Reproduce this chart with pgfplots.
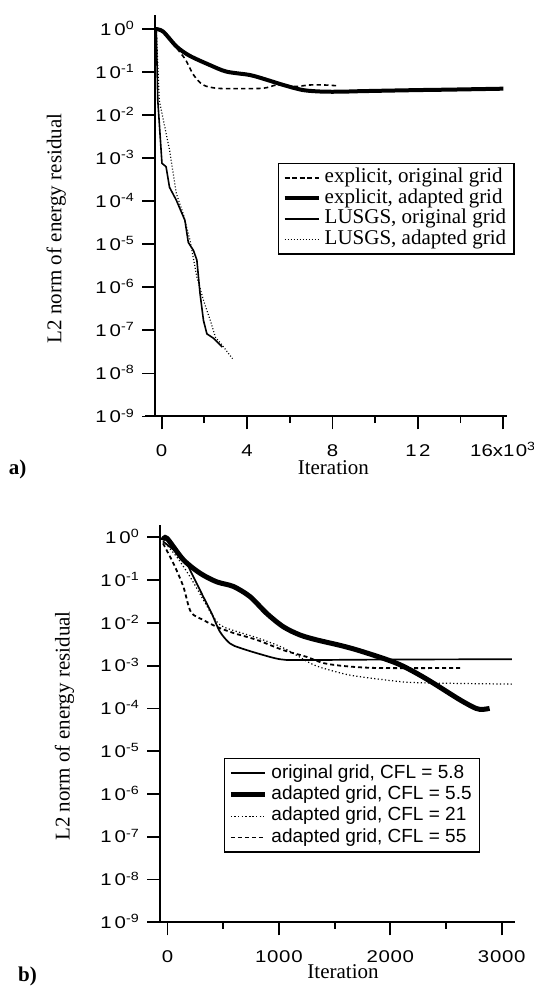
\documentclass[border=0pt]{standalone}
\usepackage{fontspec}
\setmainfont{Liberation Serif}
\setsansfont{Liberation Sans}
\usepackage{graphicx}
\usepackage{pgfplots}
\pgfplotsset{compat=1.18}

% wide sans tick labels, as in the scan
\newcommand{\tk}[1]{\scalebox{1.2}[1]{#1}}
\newcommand{\dec}[1]{\tk{1\kern1.2pt0\textsuperscript{#1}}}

\pgfplotsset{
  resid/.style={
    scale only axis,
    ymin=1e-9,
    axis lines=left,
    axis line style={-, line width=1pt},
    tick align=outside,
    major tick length=6.5pt,
    minor tick length=3.3pt,
    tick style={black, line width=0.9pt},
    yminorticks=false,
    ytick={1e-9,1e-8,1e-7,1e-6,1e-5,1e-4,1e-3,1e-2,1e-1,1},
    yticklabels={\dec{-9},\dec{-8},\dec{-7},\dec{-6},\dec{-5},\dec{-4},\dec{-3},\dec{-2},\dec{-1},\dec{0}},
    yticklabel style={font=\fontsize{8.5}{8.5}\selectfont\sffamily, anchor=base east, yshift=-3.1pt},
    xticklabel style={font=\fontsize{8.5}{8.5}\selectfont\sffamily, anchor=base, yshift=-13.5pt, inner sep=0pt},
    clip=false,
    legend cell align=left,
  },
}

\begin{document}
\begin{tikzpicture}[x=1pt,y=1pt]
\useasboundingbox (0,0) rectangle (267,497);

% ---------------- a) explicit vs LUSGS
\begin{semilogyaxis}[resid,
  at={(77.5pt,288.75pt)}, anchor=south west,
  width=175.85pt, height=200.75pt,
  xmin=-0.31, xmax=16.16, ymax=2.11,
  xtick={0,4,8,12,16},
  minor xtick={2,6,10,14},
  xticklabels={\tk{0},\tk{4},\tk{8},\tk{1\kern1pt2},\tk{16x1\kern.6pt0\textsuperscript{3}}},
  legend style={at={(0.349,0.632)}, anchor=north west, draw=black, line width=0.8pt,
    font=\fontsize{10.5}{10.5}\selectfont, row sep=0pt, inner sep=2pt,
    nodes={inner ysep=0.4pt, text height=7.2pt, text depth=2.3pt}},
]
\addplot[black, line width=0.8pt, dash pattern=on 2.2pt off 1.6pt, smooth] coordinates {
  (-0.3,1.0) (0.07,0.87) (0.6,0.42) (0.9,0.27) (1.13,0.19) (1.5,0.085) (1.95,0.050)
  (2.58,0.042) (3.5,0.041) (4.76,0.042) (5.39,0.050) (6.0,0.047) (6.32,0.046)
  (6.95,0.050) (7.6,0.050) (8.2,0.048)
};
\addlegendentry{explicit, original grid}
\addplot[black, line width=2pt, smooth] coordinates {
  (-0.3,1.0) (0.07,0.87) (0.7,0.39) (1.3,0.24) (2.26,0.145) (3.04,0.102) (4.14,0.085)
  (4.92,0.066) (5.7,0.050) (6.63,0.038) (7.57,0.035) (8.5,0.035) (9.43,0.036)
  (11.94,0.038) (13.5,0.039) (16.0,0.041)
};
\addlegendentry{explicit, adapted grid}
\addplot[black, line width=0.8pt] coordinates {
  (-0.25,1.0) (-0.18,0.022) (0.016,7.6e-4) (0.21,6.3e-4) (0.37,2.1e-4) (0.69,1.05e-4)
  (1.09,3.6e-5) (1.25,1.1e-5) (1.49,7.2e-6) (1.65,4.3e-6) (1.80,7.1e-7) (1.96,1.7e-7)
  (2.12,8.3e-8) (2.44,6.5e-8) (2.84,4.1e-8)
};
\addlegendentry{LUSGS, original grid}
\addplot[black, line width=0.6pt, dash pattern=on 0.5pt off 1pt] coordinates {
  (-0.25,1.0) (-0.11,0.022) (0.05,9.1e-3) (0.37,1.55e-3) (0.69,1.5e-4) (1.01,5.1e-5)
  (1.33,1.23e-5) (1.65,1.74e-6) (1.96,5.0e-7) (2.28,1.7e-7) (2.52,6.9e-8)
  (2.84,4.5e-8) (3.32,2.2e-8)
};
\addlegendentry{LUSGS, adapted grid}
\end{semilogyaxis}
\draw[line width=1pt] (72.5,288.75) -- (77.5,288.75);

% ---------------- b) CFL study
\begin{semilogyaxis}[resid,
  at={(80pt,35.85pt)}, anchor=south west,
  width=177.5pt, height=198.65pt,
  xmin=-67, xmax=3119, ymax=1.94,
  xtick={0,1000,2000,3000},
  minor xtick={500,1500,2500},
  xticklabels={\tk{0},\tk{1\kern.3pt0\kern.3pt0\kern.3pt0},\tk{2\kern.3pt0\kern.3pt0\kern.3pt0},\tk{3\kern.3pt0\kern.3pt0\kern.3pt0}},
  legend style={at={(0.179,0.414)}, anchor=north west, draw=black, line width=0.8pt,
    font=\fontsize{9.5}{9.5}\selectfont\sffamily, row sep=0pt, inner sep=2pt,
    nodes={inner ysep=0.75pt, text height=7pt, text depth=2.2pt}},
]
\addplot[black, line width=0.85pt, smooth] coordinates {
  (-40,0.80) (142,0.32) (232,0.12) (321,0.041) (397,0.0166) (471,0.0062) (561,0.0033)
  (651,0.0026) (831,0.00186) (1010,0.00141) (1190,0.00135) (2000,0.00139) (3090,0.00141)
};
\addlegendentry{original grid, CFL = 5.8}
\addplot[black, line width=2.5pt, smooth] coordinates {
  (-40,0.85) (-5,0.95) (142,0.30) (292,0.145) (442,0.091) (591,0.071) (741,0.041)
  (891,0.0166) (1040,0.0081) (1190,0.0052) (1339,0.0040) (1544,0.0030) (1698,0.00234)
  (1937,0.00148) (2087,0.00105) (2237,0.00066) (2386,0.00039) (2626,0.000158)
  (2769,0.0001) (2830,0.000095) (2891,0.0001)
};
\addlegendentry{adapted grid, CFL = 5.5}
\addplot[black, line width=0.6pt, dash pattern=on 0.6pt off 1.2pt, smooth] coordinates {
  (-40,0.83) (83,0.35) (202,0.12) (321,0.035) (411,0.014) (501,0.0081) (801,0.0045)
  (1040,0.0026) (1279,0.00115) (1399,0.00087) (1638,0.0006) (1937,0.00047)
  (2237,0.0004) (3090,0.00037)
};
\addlegendentry{adapted grid, CFL = 21}
\addplot[black, line width=0.9pt, dash pattern=on 2pt off 1.5pt, smooth] coordinates {
  (-40,0.72) (52,0.25) (142,0.071) (210,0.018) (321,0.0117) (442,0.0081) (591,0.0058)
  (801,0.0040) (1040,0.0023) (1250,0.0016) (1399,0.00115) (1600,0.00097)
  (1900,0.00088) (2632,0.00088)
};
\addlegendentry{adapted grid, CFL = 55}
\end{semilogyaxis}
\draw[line width=1pt] (76,35.85) -- (80,35.85);

% ---------------- labels
\node[rotate=90, font=\fontsize{10.5}{10.5}\selectfont] at (28.1,382.75) {L2 norm of energy residual};
\node[rotate=90, font=\fontsize{10.5}{10.5}\selectfont] at (32.3,134) {L2 norm of energy residual};
\node[anchor=base, inner sep=0pt, font=\fontsize{10.5}{10.5}\selectfont] at (166.7,259.5) {Iteration};
\node[anchor=base, inner sep=0pt, font=\fontsize{10.5}{10.5}\selectfont] at (171.5,7.8) {Iteration};
\node[font=\bfseries\fontsize{10.5}{10.5}\selectfont] at (8.75,262.5) {a)};
\node[font=\bfseries\fontsize{10.5}{10.5}\selectfont] at (13.75,9) {b)};
\end{tikzpicture}
\end{document}
